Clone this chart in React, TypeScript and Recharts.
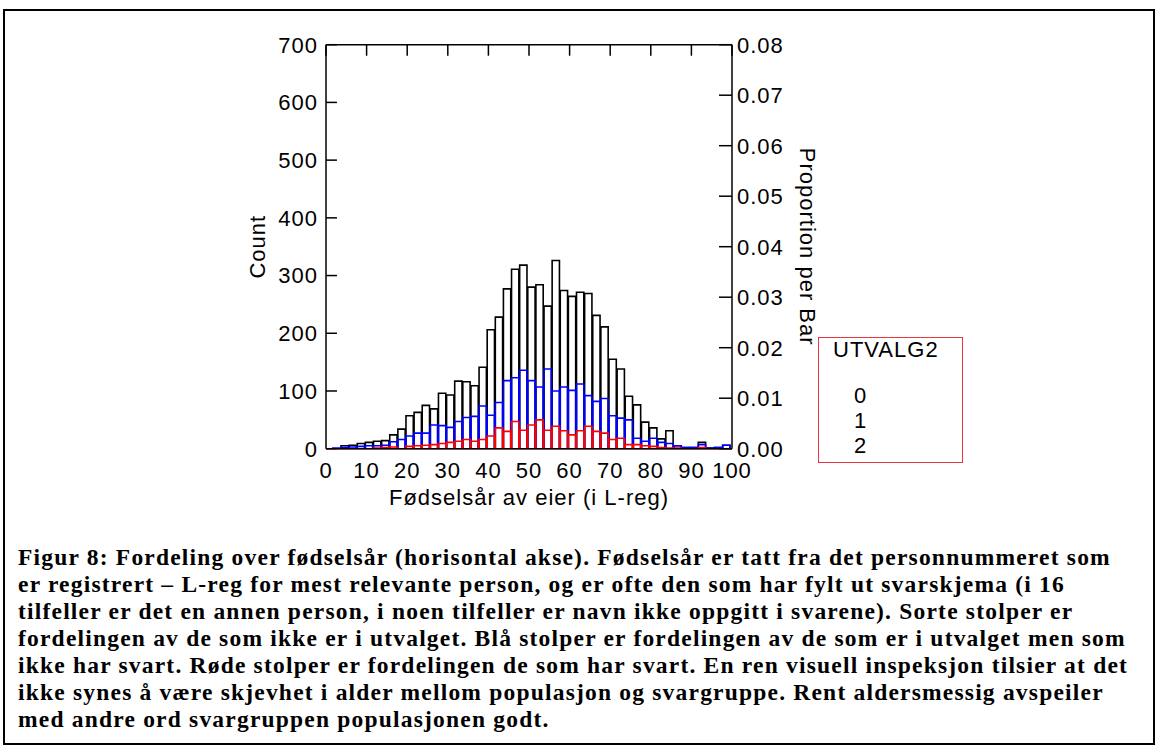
import React from 'react';
import { ComposedChart, Bar, XAxis, YAxis, ReferenceLine, Label } from 'recharts';

// Histogram bins (2-year wide), identified by their centre on the horizontal axis
const binCenters = [
  2.7, 4.7, 6.7, 8.7, 10.7, 12.7, 14.7, 16.7, 18.7, 20.7,
  22.7, 24.7, 26.7, 28.7, 30.7, 32.7, 34.7, 36.7, 38.7, 40.7,
  42.7, 44.7, 46.7, 48.7, 50.7, 52.7, 54.7, 56.7, 58.7, 60.7,
  62.7, 64.7, 66.7, 68.7, 70.7, 72.7, 74.7, 76.7, 78.7, 80.7,
  82.7, 84.7, 86.7, 88.7, 90.7, 92.7, 94.7, 96.7, 98.7,
];

// UTVALG2 = 0: not in the sample (black)
const notInSample = [
  0, 5, 6, 9, 11, 13, 14, 24, 34, 57,
  63, 75, 69, 96, 93, 117, 116, 109, 141, 206,
  228, 277, 311, 318, 280, 284, 247, 326, 274, 264,
  271, 269, 231, 211, 155, 138, 91, 76, 46, 36,
  17, 31, 5, 2, 2, 11, 1, 2, 6,
];

// UTVALG2 = 1: in the sample, no response (blue)
const noResponse = [
  1, 2, 3, 4, 5, 5, 6, 12, 16, 22,
  27, 27, 41, 40, 37, 47, 54, 56, 74, 58,
  80, 118, 123, 136, 118, 107, 138, 100, 107, 101,
  112, 92, 82, 87, 57, 53, 50, 18, 13, 18,
  11, 9, 5, 2, 2, 7, 1, 2, 6,
];

// UTVALG2 = 2: responded (red)
const responded = [
  0, 0, 0, 0, 0, 1, 2, 3, 0, 4,
  5, 6, 7, 9, 11, 13, 16, 13, 16, 22,
  36, 30, 47, 32, 41, 50, 32, 39, 31, 24,
  31, 39, 30, 27, 16, 18, 7, 7, 5, 4,
  2, 1, 1, 0, 0, 2, 0, 0, 0,
];

const yearTicks = [0, 10, 20, 30, 40, 50, 60, 70, 80, 90, 100];
const countTicks = [0, 100, 200, 300, 400, 500, 600, 700];
const proportionTicks = [0, 0.01, 0.02, 0.03, 0.04, 0.05, 0.06, 0.07, 0.08];

const xTitle = 'Fødselsår av eier (i L-reg)';
const leftTitle = 'Count';
const rightTitle = 'Proportion per Bar';
const legendTitle = 'UTVALG2';
const legendItems = ['0', '1', '2'];

const captionLines = [
  'Figur 8: Fordeling over fødselsår (horisontal akse). Fødselsår er tatt fra det personnummeret som',
  'er registrert – L-reg for mest relevante person, og er ofte den som har fylt ut svarskjema (i 16',
  'tilfeller er det en annen person, i noen tilfeller er navn ikke oppgitt i svarene). Sorte stolper er',
  'fordelingen av de som ikke er i utvalget. Blå stolper er fordelingen av de som er i utvalget men som',
  'ikke har svart. Røde stolper er fordelingen de som har svart. En ren visuell inspeksjon tilsier at det',
  'ikke synes å være skjevhet i alder mellom populasjon og svargruppe. Rent aldersmessig avspeiler',
  'med andre ord svargruppen populasjonen godt.',
];

const data = binCenters.map((x, i) => ({
  x,
  g0: notInSample[i],
  g1: noResponse[i],
  g2: responded[i],
}));

const SANS = '"Liberation Sans", Arial, sans-serif';
const SERIF = '"Liberation Serif", "Times New Roman", serif';
const FS = 22;
const SPACING = '1px';
const BAR_W = 8.12;
const LINE = { stroke: '#000', strokeWidth: 1.5 };
const COUNT_MARK_LEN = 2.7; // inward tick length on the count axis, in x-axis units
const noText = () => '';

export default function App() {
  const tickStyle = { fill: '#000', fontSize: FS, fontFamily: SANS };
  return (
    <div
      style={{
        position: 'absolute',
        left: 0,
        top: 0,
        width: 1159,
        height: 749,
        background: '#fff',
        overflow: 'hidden',
      }}
    >
      {/* page frame */}
      <div
        style={{
          position: 'absolute',
          left: 3,
          top: 9,
          width: 1148,
          height: 732,
          border: '2px solid #000',
        }}
      />

      <div style={{ position: 'absolute', left: 0, top: 0, letterSpacing: SPACING, fontFamily: SANS }}>
        <ComposedChart
          width={1159}
          height={749}
          data={data}
          margin={{ top: 44.7, right: 275, bottom: 204.3, left: 188 }}
          barGap={0}
          barCategoryGap={0}
        >
          <XAxis
            xAxisId="g0"
            dataKey="x"
            type="number"
            domain={[0, 100]}
            allowDataOverflow
            ticks={yearTicks}
            interval={0}
            tickLine={false}
            tickSize={0}
            tickMargin={14}
            height={96}
            axisLine={LINE}
            tick={tickStyle}
          >
            <Label value={xTitle} position="center" fill="#000" fontSize={FS} fontFamily={SANS} />
          </XAxis>
          <XAxis xAxisId="g1" dataKey="x" type="number" domain={[0, 100]} allowDataOverflow hide />
          <XAxis xAxisId="g2" dataKey="x" type="number" domain={[0, 100]} allowDataOverflow hide />
          {/* frame along the top with inward tick marks */}
          <XAxis
            xAxisId="top"
            orientation="top"
            dataKey="x"
            type="number"
            domain={[0, 100]}
            allowDataOverflow
            ticks={yearTicks}
            interval={0}
            height={1}
            mirror
            tickFormatter={noText}
            tickSize={11}
            axisLine={LINE}
            tickLine={LINE}
          />
          <YAxis
            yAxisId="left"
            type="number"
            domain={[0, 700]}
            allowDataOverflow
            ticks={countTicks}
            interval={0}
            width={138}
            tickLine={false}
            tickSize={0}
            tickMargin={8}
            axisLine={LINE}
            tick={tickStyle}
          >
            <Label value={leftTitle} angle={-90} position="center" fill="#000" fontSize={FS} fontFamily={SANS} />
          </YAxis>
          <YAxis
            yAxisId="right"
            orientation="right"
            type="number"
            domain={[0, 0.08]}
            ticks={proportionTicks}
            interval={0}
            allowDataOverflow
            width={152}
            tickLine={false}
            tickSize={0}
            tickMargin={5}
            tickFormatter={(v: number) => v.toFixed(2)}
            axisLine={LINE}
            tick={tickStyle}
          >
            <Label value={rightTitle} angle={90} position="center" fill="#000" fontSize={FS} fontFamily={SANS} />
          </YAxis>
          <YAxis
            yAxisId="rightMarks"
            orientation="right"
            type="number"
            domain={[0, 0.08]}
            ticks={proportionTicks}
            interval={0}
            allowDataOverflow
            width={1}
            mirror
            tickFormatter={noText}
            tickSize={13}
            axisLine={false}
            tickLine={LINE}
          />

          {/* inward tick marks on the count axis */}
          {countTicks.map((v) => (
            <ReferenceLine
              key={`mark-${v}`}
              xAxisId="g0"
              yAxisId="left"
              segment={[
                { x: 0, y: v },
                { x: COUNT_MARK_LEN, y: v },
              ]}
              stroke="#000"
              strokeWidth={1.5}
            />
          ))}

          <Bar
            xAxisId="g0"
            yAxisId="left"
            dataKey="g0"
            barSize={BAR_W}
            fill="none"
            stroke="#000"
            strokeWidth={1.6}
            isAnimationActive={false}
          />
          <Bar
            xAxisId="g1"
            yAxisId="left"
            dataKey="g1"
            barSize={BAR_W}
            fill="none"
            stroke="#0000ff"
            strokeWidth={1.6}
            isAnimationActive={false}
          />
          <Bar
            xAxisId="g2"
            yAxisId="left"
            dataKey="g2"
            barSize={BAR_W}
            fill="none"
            stroke="#ff0000"
            strokeWidth={1.6}
            isAnimationActive={false}
          />
          <ReferenceLine xAxisId="g0" yAxisId="left" y={0} stroke="#e0203a" strokeWidth={1.5} />
        </ComposedChart>
      </div>

      {/* legend box */}
      <div
        style={{
          position: 'absolute',
          left: 818,
          top: 337,
          width: 143,
          height: 124,
          border: '1px solid #e8363a',
        }}
      />
      <div
        style={{
          position: 'absolute',
          left: 833,
          top: 350 - 0.49 * FS,
          fontFamily: SANS,
          fontSize: FS,
          lineHeight: `${FS}px`,
          letterSpacing: SPACING,
          whiteSpace: 'nowrap',
        }}
      >
        {legendTitle}
      </div>
      {legendItems.map((item, i) => (
        <div
          key={item}
          style={{
            position: 'absolute',
            left: 854,
            top: 396 + i * 25 - 0.49 * FS,
            fontFamily: SANS,
            fontSize: FS,
            lineHeight: `${FS}px`,
            whiteSpace: 'nowrap',
          }}
        >
          {item}
        </div>
      ))}

      {/* figure caption */}
      <div style={{ position: 'absolute', left: 18, top: 543.5 }}>
        {captionLines.map((line, i) => (
          <div
            key={i}
            style={{
              fontFamily: SERIF,
              fontWeight: 'bold',
              fontSize: 23.5,
              lineHeight: '27px',
              letterSpacing: '1.2px',
              whiteSpace: 'nowrap',
            }}
          >
            {line}
          </div>
        ))}
      </div>
    </div>
  );
}
